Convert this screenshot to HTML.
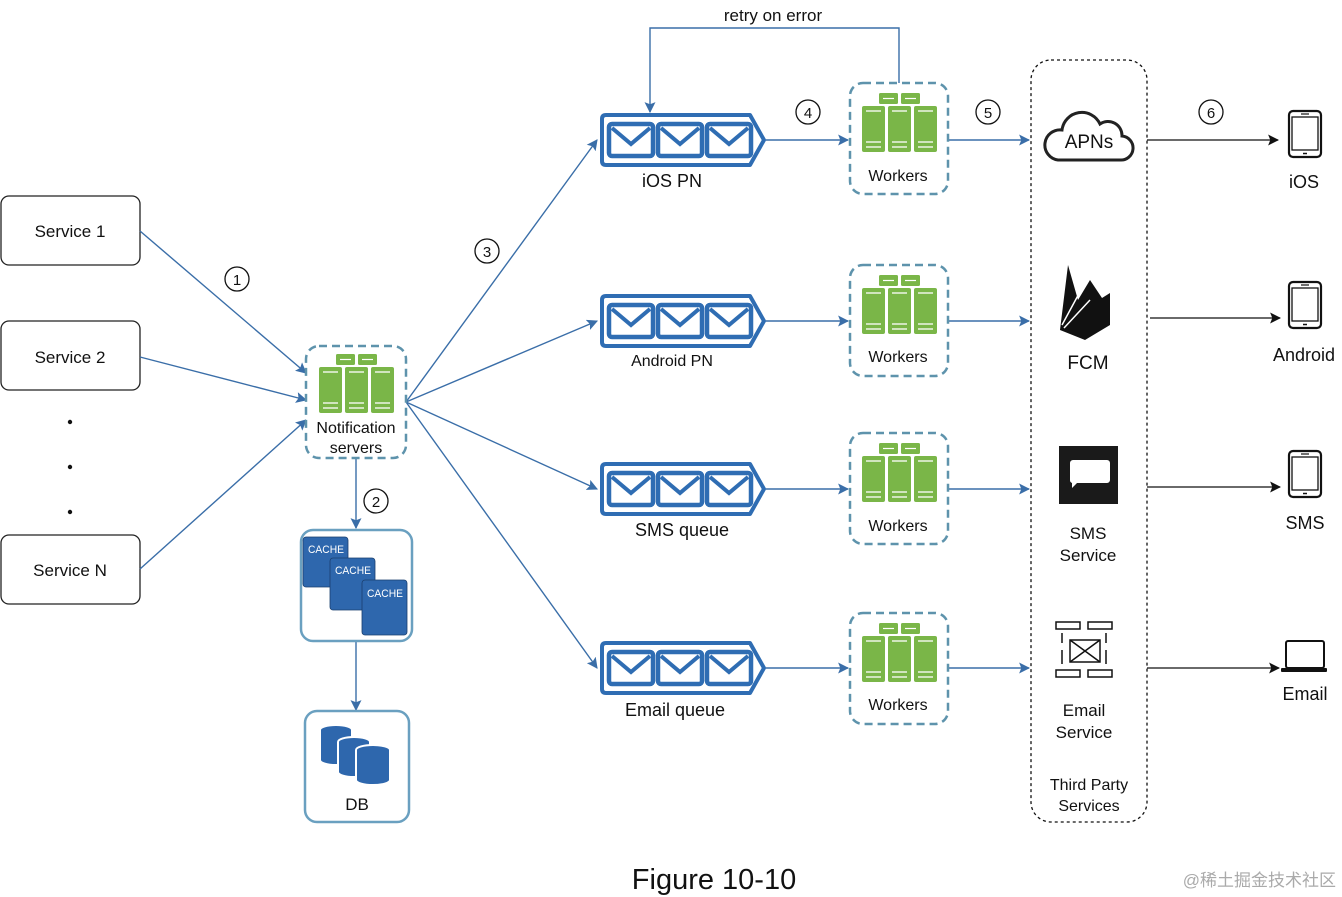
<!DOCTYPE html>
<html><head><meta charset="utf-8"><style>
html,body{margin:0;padding:0;background:#fff}
svg{display:block;font-family:"Liberation Sans",Arial,sans-serif}
</style></head><body>
<svg width="1342" height="897" viewBox="0 0 1342 897" xmlns="http://www.w3.org/2000/svg">
<defs>
<marker id="ab" viewBox="0 0 10 10" refX="9" refY="5" markerWidth="11" markerHeight="11" orient="auto-start-reverse" markerUnits="userSpaceOnUse"><path d="M0,0 L10,5 L0,10 L2,5 z" fill="#3a6ea8"/></marker>
<marker id="ak" viewBox="0 0 10 10" refX="9" refY="5" markerWidth="11" markerHeight="11" orient="auto" markerUnits="userSpaceOnUse"><path d="M0,0 L10,5 L0,10 L2,5 z" fill="#111"/></marker>
<g id="srv">
<rect x="17" y="0" width="19" height="11" rx="1.5" fill="#7ab648"/>
<rect x="39" y="0" width="19" height="11" rx="1.5" fill="#7ab648"/>
<line x1="21" y1="5.5" x2="32" y2="5.5" stroke="#fff" stroke-width="1.2"/>
<line x1="43" y1="5.5" x2="54" y2="5.5" stroke="#fff" stroke-width="1.2"/>
<rect x="0" y="13" width="23" height="46" rx="2" fill="#7ab648"/>
<rect x="26" y="13" width="23" height="46" rx="2" fill="#7ab648"/>
<rect x="52" y="13" width="23" height="46" rx="2" fill="#7ab648"/>
<g stroke="#fff" stroke-width="1.3">
<line x1="4" y1="18" x2="19" y2="18"/><line x1="30" y1="18" x2="45" y2="18"/><line x1="56" y1="18" x2="71" y2="18"/>
<line x1="4" y1="49" x2="19" y2="49"/><line x1="30" y1="49" x2="45" y2="49"/><line x1="56" y1="49" x2="71" y2="49"/>
<line x1="4" y1="54" x2="19" y2="54"/><line x1="30" y1="54" x2="45" y2="54"/><line x1="56" y1="54" x2="71" y2="54"/>
</g>
</g>
<g id="env">
<rect x="0" y="0" width="44" height="32" rx="3" fill="none" stroke="#2f6db3" stroke-width="4.5"/>
<path d="M3,4 L22,20 L41,4" fill="none" stroke="#2f6db3" stroke-width="4"/>
</g>
<g id="queue">
<path d="M6,2 L150,2 L164,27 L150,52 L6,52 Q2,52 2,48 L2,6 Q2,2 6,2 Z" fill="#fff" stroke="#2f6db3" stroke-width="4" stroke-linejoin="round"/>
<use href="#env" x="9" y="11"/>
<use href="#env" x="58" y="11"/>
<use href="#env" x="107" y="11"/>
</g>
<g id="phone">
<rect x="0" y="0" width="32" height="46" rx="4" fill="none" stroke="#111" stroke-width="2.2"/>
<rect x="3" y="6" width="26" height="33" fill="none" stroke="#111" stroke-width="1.3"/>
<line x1="12" y1="3" x2="20" y2="3" stroke="#111" stroke-width="1.2"/>
<line x1="14" y1="42.5" x2="18" y2="42.5" stroke="#111" stroke-width="1.5"/>
</g>
<g id="wk">
<rect x="0" y="0" width="98" height="111" rx="13" fill="none" stroke="#5e93ac" stroke-width="2.5" stroke-dasharray="8,5"/>
<use href="#srv" x="12" y="10"/>
</g>
</defs>

<g fill="#fff" stroke="#222" stroke-width="1.3">
<rect x="1" y="196" width="139" height="69" rx="8"/>
<rect x="1" y="321" width="139" height="69" rx="8"/>
<rect x="1" y="535" width="139" height="69" rx="8"/>
</g>
<g font-size="17" text-anchor="middle" fill="#111">
<text x="70" y="237">Service 1</text>
<text x="70" y="363">Service 2</text>
<text x="70" y="576">Service N</text>
</g>
<g fill="#111"><circle cx="70" cy="422" r="2.2"/><circle cx="70" cy="467" r="2.2"/><circle cx="70" cy="512" r="2.2"/></g>

<g stroke="#3a6ea8" stroke-width="1.4" fill="none" marker-end="url(#ab)">
<line x1="140" y1="231" x2="306" y2="373"/>
<line x1="140" y1="357" x2="306" y2="400"/>
<line x1="140" y1="569" x2="306" y2="420"/>
<line x1="356" y1="458" x2="356" y2="528"/>
<line x1="356" y1="642" x2="356" y2="710"/>
<line x1="406" y1="402" x2="597" y2="140"/>
<line x1="406" y1="402" x2="597" y2="321"/>
<line x1="406" y1="402" x2="597" y2="489"/>
<line x1="406" y1="402" x2="597" y2="668"/>
<line x1="766" y1="140" x2="848" y2="140"/>
<line x1="766" y1="321" x2="848" y2="321"/>
<line x1="766" y1="489" x2="848" y2="489"/>
<line x1="766" y1="668" x2="848" y2="668"/>
<line x1="948" y1="140" x2="1029" y2="140"/>
<line x1="948" y1="321" x2="1029" y2="321"/>
<line x1="948" y1="489" x2="1029" y2="489"/>
<line x1="948" y1="668" x2="1029" y2="668"/>
<path d="M899,83 L899,28 L650,28 L650,112"/>
</g>
<text x="773" y="21" font-size="17" text-anchor="middle" fill="#111">retry on error</text>

<g fill="#fff" stroke="#111" stroke-width="1.3">
<circle cx="237" cy="279" r="12"/><circle cx="376" cy="501" r="12"/><circle cx="487" cy="251" r="12"/>
<circle cx="808" cy="112" r="12"/><circle cx="988" cy="112" r="12"/><circle cx="1211" cy="112" r="12"/>
</g>
<g font-size="15" text-anchor="middle" fill="#111">
<text x="237" y="285">1</text><text x="376" y="507">2</text><text x="487" y="257">3</text>
<text x="808" y="118">4</text><text x="988" y="118">5</text><text x="1211" y="118">6</text>
</g>

<rect x="306" y="346" width="100" height="112" rx="13" fill="#fff" stroke="#5e93ac" stroke-width="2.5" stroke-dasharray="8,5"/>
<use href="#srv" x="319" y="354"/>
<text x="356" y="433" font-size="16" text-anchor="middle" fill="#111">Notification</text>
<text x="356" y="453" font-size="16" text-anchor="middle" fill="#111">servers</text>

<rect x="301" y="530" width="111" height="111" rx="12" fill="#fff" stroke="#6aa0c0" stroke-width="2.5"/>
<g fill="#2e67ad" stroke="#1a3f6e" stroke-width="0.8">
<rect x="303" y="537" width="45" height="50" rx="3"/>
<rect x="330" y="558" width="45" height="52" rx="3"/>
<rect x="362" y="580" width="45" height="55" rx="3"/>
</g>
<g font-size="11" fill="#fff">
<text x="308" y="553" textLength="36" lengthAdjust="spacingAndGlyphs">CACHE</text>
<text x="335" y="574" textLength="36" lengthAdjust="spacingAndGlyphs">CACHE</text>
<text x="367" y="597" textLength="36" lengthAdjust="spacingAndGlyphs">CACHE</text>
</g>

<rect x="305" y="711" width="104" height="111" rx="12" fill="#fff" stroke="#6aa0c0" stroke-width="2.5"/>
<g fill="#2e67ad" stroke="#fff" stroke-width="2">
<path d="M320,730 v30 a16,5 0 0 0 32,0 v-30 a16,5 0 0 0 -32,0z"/>
<path d="M338,742 v30 a16,5 0 0 0 32,0 v-30 a16,5 0 0 0 -32,0z"/>
<path d="M356,750 v30 a17,5 0 0 0 34,0 v-30 a17,5 0 0 0 -34,0z"/>
</g>
<text x="357" y="810" font-size="17" text-anchor="middle" fill="#111">DB</text>

<use href="#queue" x="600" y="113"/>
<use href="#queue" x="600" y="294"/>
<use href="#queue" x="600" y="462"/>
<use href="#queue" x="600" y="641"/>
<g text-anchor="middle" fill="#111">
<text x="672" y="187" font-size="18">iOS PN</text>
<text x="672" y="366" font-size="16">Android PN</text>
<text x="682" y="536" font-size="18">SMS queue</text>
<text x="675" y="716" font-size="18">Email queue</text>
</g>

<use href="#wk" x="850" y="83"/>
<use href="#wk" x="850" y="265"/>
<use href="#wk" x="850" y="433"/>
<use href="#wk" x="850" y="613"/>
<g font-size="16" text-anchor="middle" fill="#111">
<text x="898" y="181">Workers</text><text x="898" y="362">Workers</text>
<text x="898" y="531">Workers</text><text x="898" y="710">Workers</text>
</g>

<rect x="1031" y="60" width="116" height="762" rx="20" fill="none" stroke="#111" stroke-width="1.3" stroke-dasharray="3,3"/>
<path d="M1058,160 h62 a12,12 0 0 0 2,-24 a14,14 0 0 0 -22,-12 a20,20 0 0 0 -38,6 a15,15 0 0 0 -4,30z" fill="#fff" stroke="#222" stroke-width="3"/>
<text x="1089" y="148" font-size="19" text-anchor="middle" fill="#111">APNs</text>
<path d="M1068,265 L1078,300 L1090,280 L1102,298 L1110,293 L1110,325 L1085,340 L1060,330 Z" fill="#111"/>
<path d="M1062,325 L1082,288 M1064,328 L1090,300" stroke="#fff" stroke-width="1.5"/>
<text x="1088" y="369" font-size="19" text-anchor="middle" fill="#111">FCM</text>
<rect x="1059" y="446" width="59" height="58" fill="#1a1a1a"/>
<path d="M1070,460 h37 a3,3 0 0 1 3,3 v17 a3,3 0 0 1 -3,3 h-30 l-5,5 v-5 a3,3 0 0 1 -2,-3 v-17 a3,3 0 0 1 3,-3z" fill="#fff"/>
<text x="1088" y="539" font-size="17" text-anchor="middle" fill="#111">SMS</text>
<text x="1088" y="561" font-size="17" text-anchor="middle" fill="#111">Service</text>
<g fill="none" stroke="#111" stroke-width="1.5">
<rect x="1056" y="622" width="24" height="7"/><rect x="1088" y="622" width="24" height="7"/>
<rect x="1056" y="670" width="24" height="7"/><rect x="1088" y="670" width="24" height="7"/>
<rect x="1070" y="640" width="30" height="22"/><path d="M1070,640 L1100,662 M1100,640 L1070,662"/>
<path d="M1062,633 v10 M1062,650 v14 M1106,633 v10 M1106,650 v14"/>
</g>
<text x="1084" y="716" font-size="17" text-anchor="middle" fill="#111">Email</text>
<text x="1084" y="738" font-size="17" text-anchor="middle" fill="#111">Service</text>
<text x="1089" y="790" font-size="16" text-anchor="middle" fill="#111">Third Party</text>
<text x="1089" y="811" font-size="16" text-anchor="middle" fill="#111">Services</text>

<g stroke="#111" stroke-width="1.3" marker-end="url(#ak)">
<line x1="1147" y1="140" x2="1278" y2="140"/>
<line x1="1150" y1="318" x2="1280" y2="318"/>
<line x1="1147" y1="487" x2="1280" y2="487"/>
<line x1="1147" y1="668" x2="1279" y2="668"/>
</g>
<use href="#phone" x="1289" y="111"/>
<use href="#phone" x="1289" y="282"/>
<use href="#phone" x="1289" y="451"/>
<rect x="1286" y="641" width="38" height="27" rx="2" fill="none" stroke="#111" stroke-width="2"/>
<rect x="1281" y="668" width="46" height="4" rx="1" fill="#111"/>
<g font-size="18" text-anchor="middle" fill="#111">
<text x="1304" y="188">iOS</text><text x="1304" y="361">Android</text>
<text x="1305" y="529">SMS</text><text x="1305" y="700">Email</text>
</g>

<text x="714" y="889" font-size="29" text-anchor="middle" fill="#111">Figure 10-10</text>
<text x="1336" y="886" font-size="17" text-anchor="end" fill="#aaa" font-family="Liberation Sans,'Noto Sans CJK SC',sans-serif">@稀土掘金技术社区</text>
</svg>
</body></html>
